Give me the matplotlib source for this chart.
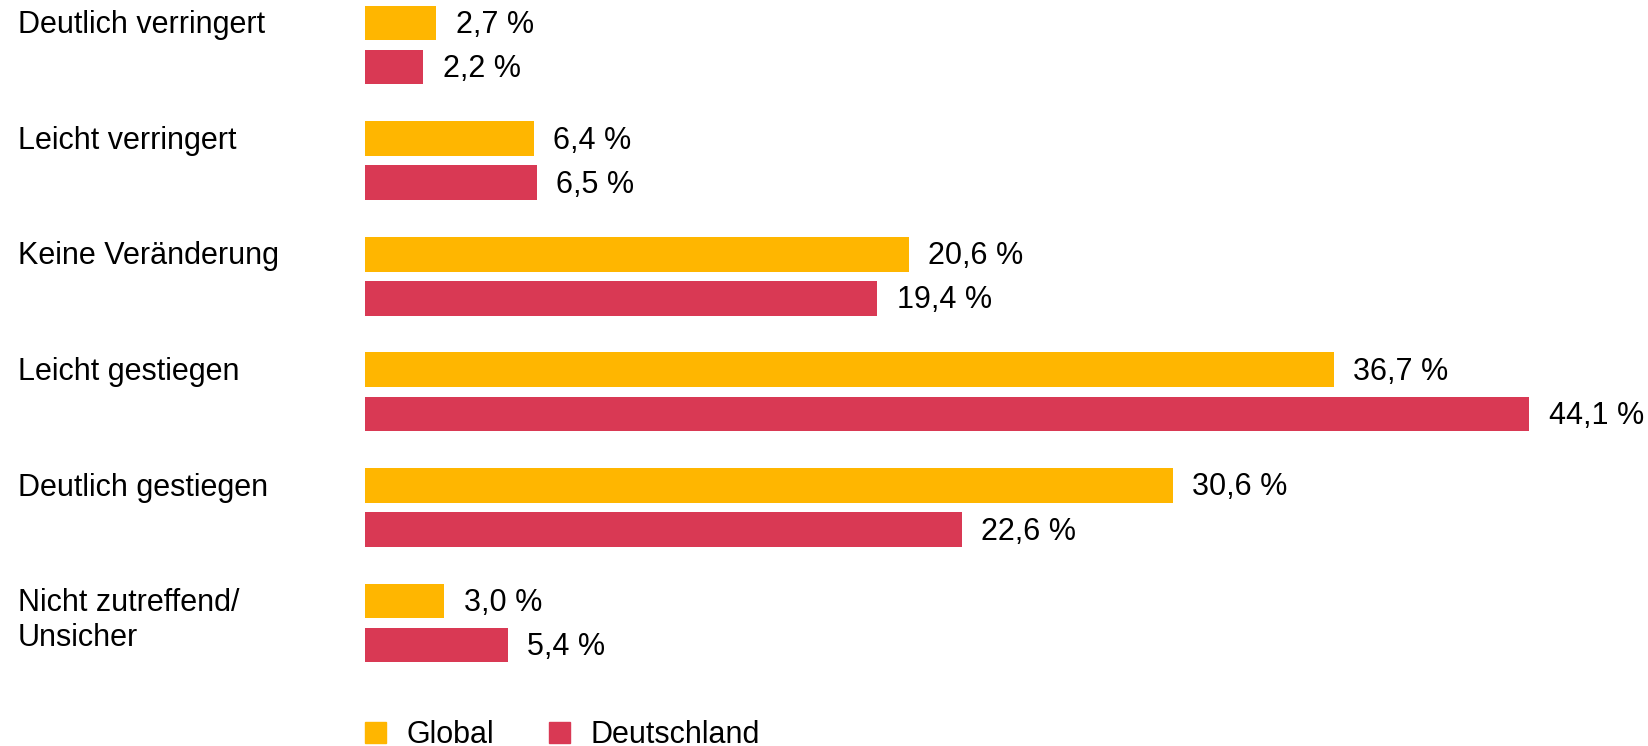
import matplotlib.pyplot as plt
from matplotlib.patches import Patch

plt.rcParams['font.family'] = ['Liberation Sans', 'DejaVu Sans']

categories = ['Deutlich verringert', 'Leicht verringert', 'Keine Veränderung',
              'Leicht gestiegen', 'Deutlich gestiegen', 'Nicht zutreffend/\nUnsicher']
global_vals = [2.7, 6.4, 20.6, 36.7, 30.6, 3.0]
germany_vals = [2.2, 6.5, 19.4, 44.1, 22.6, 5.4]
series_names = ['Global', 'Deutschland']
colors = ['#FFB600', '#D93954']

W, H = 1648, 746
fig = plt.figure(figsize=(W / 100, H / 100), dpi=100)
ax = fig.add_axes([0, 0, 1, 1])

# pixel layout
x0 = 365          # bar origin in px
px_per_pct = 26.4
group = 115.6     # px between groups

ax.set_xlim(-x0 / px_per_pct, (W - x0) / px_per_pct)
ax.set_ylim(H / group, 0)
ax.axis('off')

pos = list(range(len(categories)))
off_g, off_d, h = 0.199, 0.580, 0.30
yg = [p + off_g for p in pos]
yd = [p + off_d for p in pos]

ax.barh(yg, global_vals, height=h, color=colors[0])
ax.barh(yd, germany_vals, height=h, color=colors[1])

def fmt(v):
    return f'{v:.1f}'.replace('.', ',') + ' %'

for y, v in zip(yg, global_vals):
    ax.annotate(fmt(v), (v, y), xytext=(14, -1.5), textcoords='offset points',
                va='center', ha='left', fontsize=22)
for y, v in zip(yd, germany_vals):
    ax.annotate(fmt(v), (v, y), xytext=(14, -1.5), textcoords='offset points',
                va='center', ha='left', fontsize=22)

for y, c in zip(yg, categories):
    ax.text(18 / W, y - 0.11, c, transform=ax.get_yaxis_transform(),
            va='top', ha='left', fontsize=22, linespacing=1.2)

handles = [Patch(color=colors[0]), Patch(color=colors[1])]
fig.legend(handles, series_names, loc='upper left',
           bbox_to_anchor=(x0 / W, 1 - 720 / H), ncol=2, frameon=False,
           fontsize=22, handlelength=0.69, handleheight=0.69,
           handletextpad=0.66, columnspacing=1.8, borderpad=0, borderaxespad=0)

fig.savefig('out.png', dpi=100)
